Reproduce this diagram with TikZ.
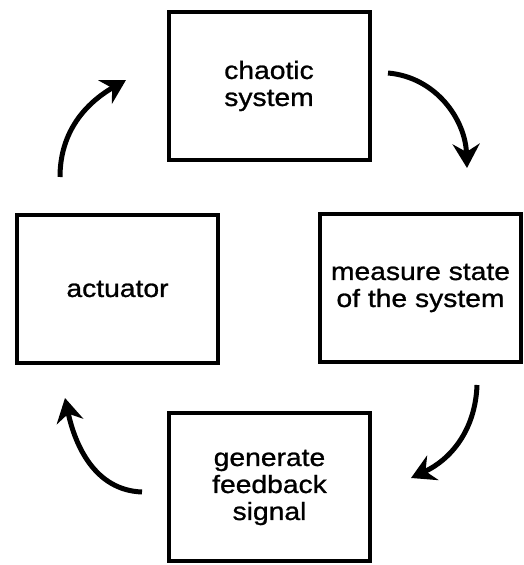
\documentclass[tikz,border=0pt]{standalone}
\usepackage{fontspec}
\setmainfont{Liberation Sans}[FakeStretch=1.13, FakeBold=1]
\usepackage{tikz}
\usetikzlibrary{arrows.meta}

\begin{document}
\begin{tikzpicture}[
    x=1pt, y=1pt,
    block/.style={rectangle, draw, line width=4pt, minimum width=201pt, minimum height=148pt, align=center, font=\fontsize{25}{27}\selectfont, inner sep=0pt},
    arrow/.style={-{Stealth[length=24pt, width=27pt, inset=8pt]}, line width=5pt},
]
\useasboundingbox (0,0) rectangle (523,565);
\node[block] (chaos) at (269,479) {chaotic\\ system};
\node[block] (measure) at (420.5,277) {measure state\\ of the system};
\node[block] (feedback) at (269.5,77.5) {generate\\ feedback\\ signal};
\node[block] (actuator) at (117.5,276) {actuator};
\coordinate (a1) at (60,388);
\coordinate (b1) at (126,485);
\coordinate (a2) at (388,492);
\coordinate (b2) at (467,397);
\coordinate (a3) at (477,180);
\coordinate (b3) at (411,87);
\coordinate (a4) at (142,73);
\coordinate (b4) at (65,167);
\draw[arrow] (a1) to[out=90, in=210] (b1);
\draw[arrow] (a2) to[out=-5, in=92] (b2);
\draw[arrow] (a3) to[out=-92, in=25] (b3);
\draw[arrow] (a4) to[out=178, in=-78] (b4);

\end{tikzpicture}
\end{document}
